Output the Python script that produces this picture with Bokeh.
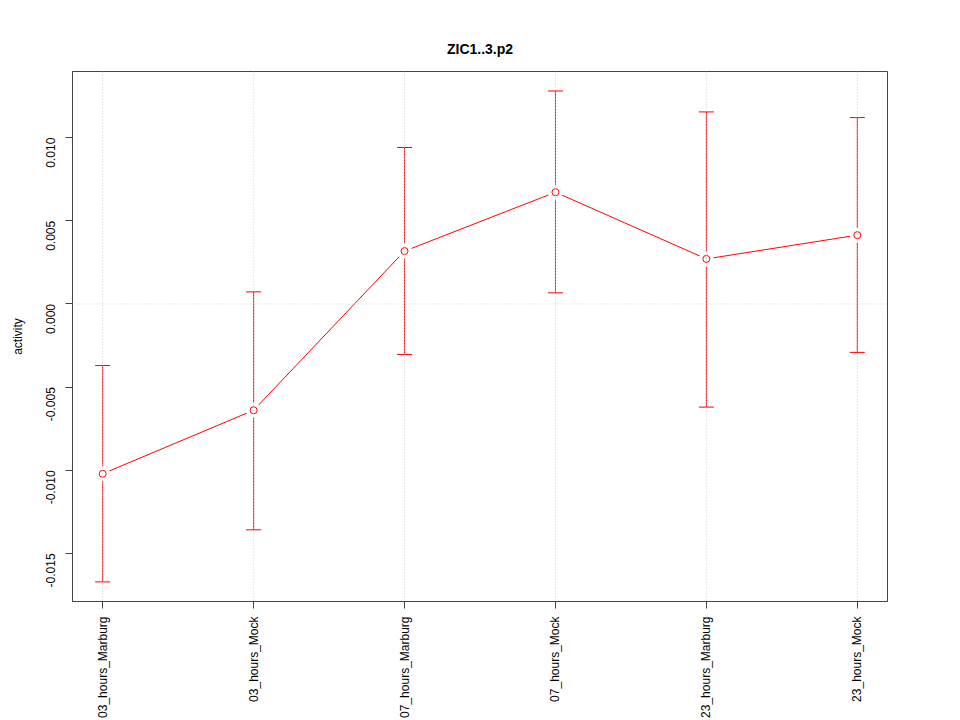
import math
from bokeh.plotting import figure
from bokeh.models import ColumnDataSource, FixedTicker, Range1d, Span, Whisker, TeeHead, NumeralTickFormatter
from bokeh.embed import file_html
from bokeh.resources import INLINE

categories = ["03_hours_Marburg", "03_hours_Mock", "07_hours_Marburg", "07_hours_Mock", "23_hours_Marburg", "23_hours_Mock"]
means = [-0.01021, -0.00639, 0.00318, 0.00672, 0.00271, 0.00414]
upper = [-0.00370, 0.00073, 0.00941, 0.01281, 0.01155, 0.01121]
lower = [-0.01671, -0.01358, -0.00304, 0.00067, -0.00620, -0.00291]
y_ticks = [-0.015, -0.010, -0.005, 0.000, 0.005, 0.010]

xs = list(range(1, len(categories) + 1))
src = ColumnDataSource(dict(x=xs, m=means, up=upper, lo=lower))

FONT = "Liberation Sans"
p = figure(width=960, height=720, output_backend="svg", toolbar_location=None,
           x_range=Range1d(0.8, 6.2), y_range=Range1d(-0.01789, 0.01398),
           min_border_left=72, min_border_right=73, min_border_top=71, min_border_bottom=116)
p.title.text = "ZIC1..3.p2"
p.title.align = "center"
p.title.text_font = FONT
p.title.text_font_size = "14px"
p.title.text_font_style = "bold"
p.title.text_color = "black"
p.title.offset = 0
p.title.standoff = 29

p.xgrid.visible = False
p.ygrid.visible = False
p.outline_line_color = "#444444"
p.outline_line_width = 1
p.background_fill_color = "white"
p.border_fill_color = "white"

for xv in xs:
    p.add_layout(Span(location=xv, dimension="height", line_color="#cccccc", line_dash="1 2", line_width=1))
p.add_layout(Span(location=0, dimension="width", line_color="#cccccc", line_dash="1 2", line_width=1))

# axes
p.xaxis.ticker = FixedTicker(ticks=xs)
p.xaxis.major_label_overrides = {i + 1: c for i, c in enumerate(categories)}
p.xaxis.major_label_orientation = math.pi / 2
p.yaxis.ticker = FixedTicker(ticks=y_ticks)
p.yaxis.formatter = NumeralTickFormatter(format="0.000")
p.yaxis.major_label_orientation = math.pi / 2
p.yaxis.axis_label = "activity"
for ax in (p.xaxis[0], p.yaxis[0]):
    ax.axis_line_color = "#444444"
    ax.major_tick_line_color = "#444444"
    ax.major_tick_out = 7
    ax.major_tick_in = 0
    ax.minor_tick_line_color = None
    ax.major_label_text_font = FONT
    ax.major_label_text_font_size = "12px"
    ax.major_label_text_color = "black"
    ax.axis_label_text_font = FONT
    ax.axis_label_text_font_size = "12px"
    ax.axis_label_text_font_style = "normal"
    ax.axis_label_text_color = "black"
p.xaxis.major_label_standoff = 8
p.yaxis.major_label_standoff = 15
p.yaxis.axis_label_standoff = 14

# line with gaps around points (R type="b")
p.line("x", "m", source=src, line_color="red", line_width=1)
p.scatter("x", "m", source=src, size=15, fill_color="white", line_color=None)

# error bars
w = Whisker(source=src, base="x", upper="up", lower="lo", line_color="red", line_width=1,
            upper_head=TeeHead(size=15, line_color="red", line_width=1),
            lower_head=TeeHead(size=15, line_color="red", line_width=1))
p.add_layout(w)

p.scatter("x", "m", source=src, size=7, fill_color=None, line_color="red", line_width=1)

open("out.html", "w").write(file_html(p, INLINE))
